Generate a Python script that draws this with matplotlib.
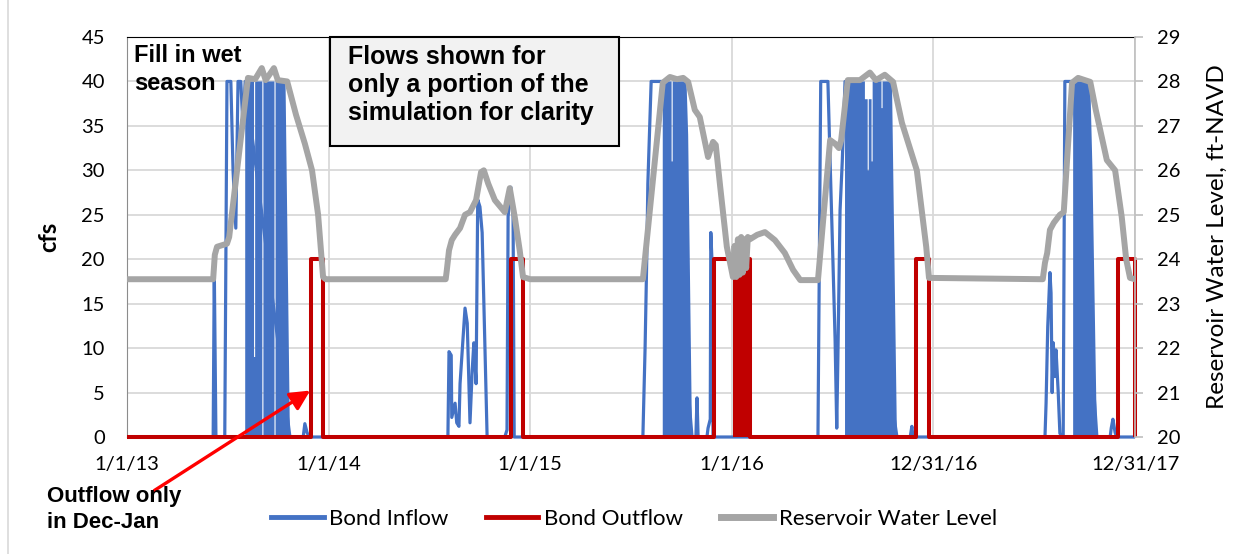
"""Bond reservoir: inflow, outflow and water level 2013-2017"""

import matplotlib
matplotlib.use("Agg")
import matplotlib.pyplot as plt
import matplotlib.dates as mdates
from matplotlib.patches import Rectangle
from matplotlib.lines import Line2D
import pandas as pd

START = pd.Timestamp("2013-01-01")

# Bond inflow (cfs), days since 1/1/13
inflow_days = [0, 156, 158, 161, 177, 181, 188, 192, 197, 201, 206, 210, 214,
               295, 319, 322, 326, 330,
               581, 583, 587, 588, 594, 597, 601, 603, 612, 616, 621, 625, 628,
               632, 635, 639, 643, 652, 684, 688, 690, 695, 699, 701,
               934, 938, 941, 943, 949, 970, 1023, 1030, 1032, 1034, 1050, 1052,
               1056, 1057, 1059, 1061,
               1251, 1256, 1269, 1273, 1278, 1282, 1285, 1287, 1291, 1295, 1300,
               1394, 1418, 1421, 1423,
               1662, 1664, 1667, 1671, 1673, 1675, 1677, 1680, 1682, 1686, 1689,
               1695, 1698, 1713, 1756, 1780, 1782, 1785, 1789, 1792, 1825]
inflow_cfs = [0, 0, 19, 0, 0, 40, 40, 30, 23.5, 40, 40, 35, 40,
              0, 0, 1.5, 0.5, 0,
              0, 9.6, 9.2, 2.2, 3.8, 1.6, 1.2, 6, 14.5, 12.8, 1.6, 7.5, 10.6,
              6, 26.7, 25.9, 23, 0, 0, 0.8, 24.8, 28.1, 24.8, 0,
              0, 10, 20, 28.5, 40, 40, 0, 0, 4.4, 0, 0, 1,
              2, 23, 20, 0,
              0, 40, 40, 31, 20, 11, 1, 8.7, 25.5, 31, 40,
              0, 0, 1.2, 0,
              0, 3.8, 12.4, 18.5, 16.2, 5, 10.6, 6.8, 9.8, 5, 0.4,
              0, 40, 40, 0, 0, 1, 2, 0.5, 0, 0]

# periods where the daily inflow toggles 0-40 so fast it reads as a solid block
inflow_block_days = [
    [214, 214, 230, 230, 232, 232, 245, 245, 247, 247, 267, 267, 269, 269, 287, 295],
    [970, 970, 986, 986, 988, 988, 1013, 1016, 1023],
    [1300, 1300, 1336, 1336, 1341, 1341, 1343, 1343, 1348, 1348, 1350, 1350,
     1366, 1366, 1368, 1368, 1385, 1394],
    [1713, 1713, 1744, 1748, 1756],
]
inflow_block_cfs = [
    [0, 40, 40, 9, 9, 40, 40, 0, 0, 40, 40, 0, 0, 40, 40, 0],
    [0, 40, 40, 31, 31, 40, 40, 34, 0],
    [0, 40, 40, 38, 38, 30, 30, 38, 38, 31, 31, 40, 40, 37, 37, 40, 40, 0],
    [0, 40, 40, 30, 0],
]

# Bond outflow (cfs)
outflow_days = [0, 333, 333, 355, 355, 695, 695, 717, 717, 1063, 1063, 1128,
                1128, 1428, 1428, 1452, 1452, 1794, 1794, 1825, 1825]
outflow_cfs = [0, 0, 20, 20, 0, 0, 20, 20, 0, 0, 20, 20,
               0, 0, 20, 20, 0, 0, 20, 20, 0]
outflow_block_days = [1097, 1097, 1128, 1128]
outflow_block_cfs = [0, 20, 20, 0]

# Reservoir water level (ft-NAVD)
level_days = [0, 156, 159, 163, 181, 185, 219, 232, 244, 251, 266, 273, 290,
              306, 322, 335, 346, 355, 360,
              577, 579, 583, 588, 594, 603, 612, 621, 632, 641, 646, 654, 666,
              684, 693, 702, 711, 717, 730,
              934, 970, 983, 996, 1007, 1016, 1028, 1037, 1052, 1061, 1066,
              1074, 1086, 1097, 1100, 1103, 1106, 1109, 1112, 1115, 1118, 1121,
              1124, 1128, 1141, 1155, 1173, 1191, 1206, 1219,
              1251, 1273, 1282, 1289, 1293, 1305, 1327, 1345, 1356, 1372, 1387,
              1403, 1430, 1447, 1452,
              1658, 1662, 1666, 1671, 1678, 1689, 1696, 1702, 1711, 1722, 1744,
              1754, 1774, 1789, 1801, 1809, 1816, 1825]
level_ft = [23.55, 23.55, 24.1, 24.28, 24.35, 24.5, 28.08, 28.05, 28.3, 28.03,
            28.3, 28.03, 28.0, 27.25, 26.6, 26.0, 25.0, 23.6, 23.55,
            23.55, 23.75, 24.2, 24.43, 24.55, 24.7, 25.0, 25.06, 25.33, 25.96,
            26.0, 25.7, 25.33, 25.06, 25.6, 24.95, 24.2, 23.6, 23.55,
            23.55, 27.97, 28.1, 28.05, 28.08, 27.99, 27.36, 27.2, 26.3, 26.64,
            26.57, 25.63, 24.28, 23.6, 24.3, 23.6, 24.45, 23.65, 24.5, 23.7,
            24.45, 23.8, 24.5, 24.45, 24.55, 24.61, 24.43, 24.14, 23.76, 23.53,
            23.53, 26.68, 26.6, 26.5, 26.68, 28.03, 28.03, 28.2, 28.03, 28.15,
            27.99, 27.07, 26.0, 24.28, 23.58,
            23.55, 23.92, 24.14, 24.66, 24.82, 25.0, 25.06, 26.23, 27.97, 28.08,
            27.99, 27.36, 26.23, 26.0, 24.95, 24.0, 23.58, 23.55]

tick_days = [0, 365, 730, 1095, 1460, 1825]
tick_labels = ["1/1/13", "1/1/14", "1/1/15", "1/1/16", "12/31/16", "12/31/17"]

BLUE = "#4472c4"
RED = "#c00000"
GRAY = "#a5a5a5"
GRID = "#d9d9d9"


def to_num(days):
    """Días desde 1/1/13 -> números de fecha de matplotlib"""
    return mdates.date2num(START + pd.to_timedelta(days, unit="D"))


plt.rcParams["font.family"] = ["Lato", "DejaVu Sans"]

fig = plt.figure(figsize=(12.44, 5.54), dpi=100)
ax = fig.add_axes([127 / 1244, 117 / 554, 1008 / 1244, 400 / 554])

# las series no se recortan en el eje: la línea en 0 se ve entera, como en Excel
ax.plot(to_num(inflow_days), inflow_cfs, color=BLUE, lw=2.3, zorder=3,
        clip_on=False, solid_capstyle="butt")
for d, v in zip(inflow_block_days, inflow_block_cfs):
    ax.fill(to_num(d), v, color=BLUE, lw=0, zorder=3)
ax.plot(to_num(outflow_days), outflow_cfs, color=RED, lw=2.9, zorder=4,
        clip_on=False, solid_capstyle="butt")
ax.fill(to_num(outflow_block_days), outflow_block_cfs, color=RED, lw=0, zorder=4)

ax.set_xlim(to_num(0), to_num(1825))
ax.set_ylim(0, 45)
ax.set_yticks(range(0, 50, 5))
ax.set_xticks(to_num(tick_days))
ax.set_xticklabels(tick_labels)
ax.grid(True, color=GRID, lw=1.3)
ax.set_axisbelow(True)
ax.tick_params(axis="both", length=0, labelsize=14.5, labelcolor="black")
ax.tick_params(axis="y", pad=16)
ax.tick_params(axis="x", pad=14)
ax.set_ylabel("cfs", fontsize=17, fontweight="bold")
ax.yaxis.set_label_coords(-0.066, 0.5)

for side in ["left", "bottom"]:
    ax.spines[side].set_color("#8c8c8c")
ax.spines["top"].set_color("black")
ax.spines["right"].set_visible(False)

ax2 = ax.twinx()
ax2.plot(to_num(level_days), level_ft, color=GRAY, lw=4.3, zorder=5,
         clip_on=False, solid_capstyle="butt")
ax2.set_ylim(20, 29)
ax2.set_yticks(range(20, 30))
ax2.tick_params(axis="y", length=6, width=1.2, color="#bfbfbf", pad=10,
                labelsize=14.5)
ax2.spines["right"].set_color("#bfbfbf")
ax2.spines["right"].set_linewidth(1.2)
for side in ["left", "top", "bottom"]:
    ax2.spines[side].set_visible(False)
ax2.set_ylabel("Reservoir Water Level, ft-NAVD", fontsize=17.5)
ax2.yaxis.set_label_coords(1.071, 0.5)

# notas
fig.text(134 / 1244, 1 - 44 / 554, "Fill in wet\nseason", fontsize=17,
         fontweight="bold", va="top", ha="left", family="Liberation Sans",
         linespacing=1.25)
fig.add_artist(Rectangle((330 / 1244, 1 - 146 / 554), 289 / 1244, 109 / 554,
                         transform=fig.transFigure, facecolor="#f2f2f2",
                         edgecolor="black", lw=1.5, zorder=10))
fig.text(348 / 1244, 1 - 45 / 554,
         "Flows shown for\nonly a portion of the\nsimulation for clarity",
         fontsize=18, fontweight="bold", va="top", ha="left",
         family="Liberation Sans", linespacing=1.2, zorder=11)
fig.text(47 / 1244, 1 - 486 / 554, "Outflow only\nin Dec-Jan", fontsize=16,
         fontweight="bold", va="top", ha="left", family="Liberation Sans",
         linespacing=1.3)
ax.annotate("", xy=(to_num(336), 5.4), xycoords="data",
            xytext=(152 / 1244, 1 - 492 / 554), textcoords="figure fraction",
            arrowprops=dict(arrowstyle="-|>,head_length=1.2,head_width=0.6",
                            color="#ff0000", lw=2.4),
            annotation_clip=False, zorder=12)

# borde izquierdo del gráfico
fig.add_artist(Line2D([8 / 1244, 8 / 1244], [0, 1], transform=fig.transFigure,
                      color="#d9d9d9", lw=1.2))

handles = [Line2D([], [], color=BLUE, lw=3.5),
           Line2D([], [], color=RED, lw=3.5),
           Line2D([], [], color=GRAY, lw=5)]
fig.legend(handles, ["Bond Inflow", "Bond Outflow", "Reservoir Water Level"],
           loc="center", bbox_to_anchor=(634 / 1244, 1 - 519 / 554), ncol=3,
           frameon=False, fontsize=16, handlelength=2.35, handletextpad=0.25,
           columnspacing=1.7)

plt.savefig("out.png", dpi=100)
plt.close()
